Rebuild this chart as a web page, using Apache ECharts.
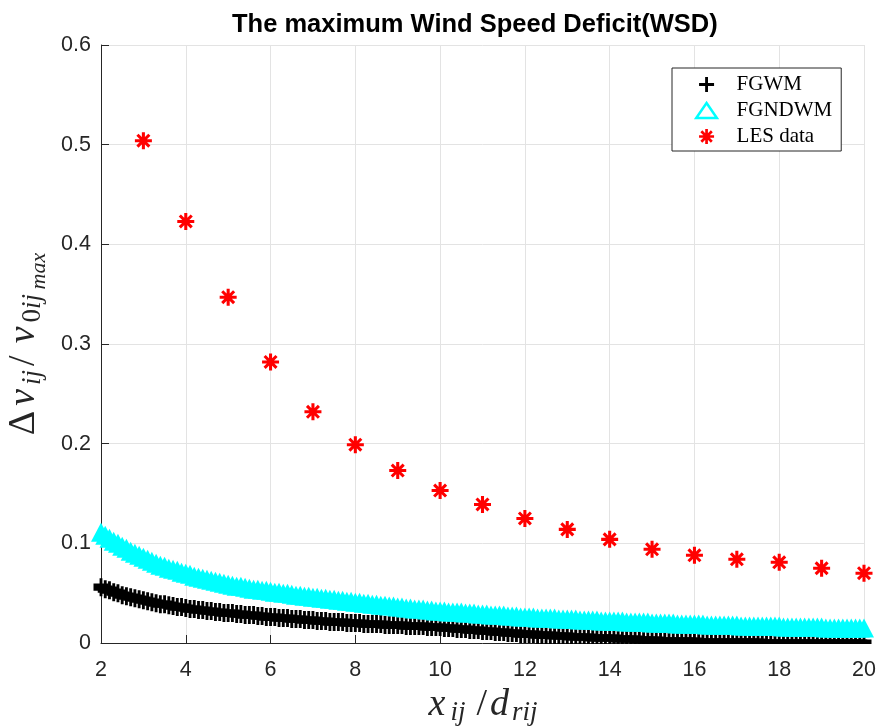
<!DOCTYPE html>
<html>
<head>
<meta charset="utf-8">
<script src="https://cdn.jsdelivr.net/npm/echarts@6/dist/echarts.min.js"></script>
<style>html,body{margin:0;padding:0;background:#fff;}#chart{width:879px;height:727px;}</style>
</head>
<body>
<div id="chart"></div>
<script>
var xs = [2,2.1,2.2,2.3,2.4,2.5,2.6,2.7,2.8,2.9,3,3.1,3.2,3.3,3.4,3.5,3.6,3.7,3.8,3.9,4,4.1,4.2,4.3,4.4,4.5,4.6,4.7,4.8,4.9,5,5.1,5.2,5.3,5.4,5.5,5.6,5.7,5.8,5.9,6,6.1,6.2,6.3,6.4,6.5,6.6,6.7,6.8,6.9,7,7.1,7.2,7.3,7.4,7.5,7.6,7.7,7.8,7.9,8,8.1,8.2,8.3,8.4,8.5,8.6,8.7,8.8,8.9,9,9.1,9.2,9.3,9.4,9.5,9.6,9.7,9.8,9.9,10,10.1,10.2,10.3,10.4,10.5,10.6,10.7,10.8,10.9,11,11.1,11.2,11.3,11.4,11.5,11.6,11.7,11.8,11.9,12,12.1,12.2,12.3,12.4,12.5,12.6,12.7,12.8,12.9,13,13.1,13.2,13.3,13.4,13.5,13.6,13.7,13.8,13.9,14,14.1,14.2,14.3,14.4,14.5,14.6,14.7,14.8,14.9,15,15.1,15.2,15.3,15.4,15.5,15.6,15.7,15.8,15.9,16,16.1,16.2,16.3,16.4,16.5,16.6,16.7,16.8,16.9,17,17.1,17.2,17.3,17.4,17.5,17.6,17.7,17.8,17.9,18,18.1,18.2,18.3,18.4,18.5,18.6,18.7,18.8,18.9,19,19.1,19.2,19.3,19.4,19.5,19.6,19.7,19.8,19.9,20];

var fgwm = [
.056,.054,.053,.051,.050,.048,.047,.046,.045,.044,.043,
.042,.041,.040,.039,.039,.038,.037,.036,.036,.035,
.034,.034,.033,.033,.032,.032,.031,.031,.030,.030,
.030,.029,.029,.028,.028,.028,.027,.027,.026,.026,
.026,.025,.025,.025,.024,.024,.024,.023,.023,.023,
.022,.022,.022,.021,.021,.021,.021,.020,.020,.020,
.020,.019,.019,.019,.019,.019,.018,.018,.018,.018,
.018,.017,.017,.017,.017,.017,.016,.016,.016,.016,
.015,.015,.015,.014,.014,.014,.013,.013,.013,.012,
.012,.012,.011,.011,.011,.010,.010,.010,.009,.009,
.009,.009,.008,.008,.008,.008,.007,.007,.007,.007,
.006,.006,.006,.006,.006,.005,.005,.005,.005,.005,
.005,.004,.004,.004,.004,.004,.003,.003,.003,.003,
.003,.002,.002,.002,.002,.002,.002,.002,.002,.002,
.001,.001,.001,.001,.001,.001,.001,.001,.001,.001,
.001,.001,.001,.001,.001,0,0,0,0,0,
0,0,0,0,0,0,0,0,0,0,
0,0,0,0,0,0,0,0,0,0];

var fgndwm = [
.111,.108,.105,.102,.100,.097,.095,.092,.090,.088,.086,
.084,.082,.080,.078,.077,.075,.074,.073,.071,.070,
.069,.067,.066,.065,.064,.063,.062,.061,.060,.059,
.058,.057,.057,.056,.055,.054,.054,.053,.053,.052,
.051,.051,.050,.050,.049,.048,.048,.047,.047,.046,
.046,.045,.045,.044,.044,.043,.043,.042,.042,.041,
.041,.040,.040,.039,.039,.038,.038,.037,.037,.036,
.036,.035,.035,.034,.034,.034,.033,.033,.032,.032,
.032,.031,.031,.031,.031,.030,.030,.030,.029,.029,
.029,.028,.028,.028,.028,.027,.027,.027,.026,.026,
.026,.026,.025,.025,.025,.025,.025,.024,.024,.024,
.024,.024,.023,.023,.023,.023,.023,.022,.022,.022,
.022,.022,.022,.021,.021,.021,.021,.021,.021,.020,
.020,.020,.020,.020,.020,.019,.019,.019,.019,.019,
.019,.019,.018,.018,.018,.018,.018,.018,.018,.018,
.017,.017,.017,.017,.017,.017,.017,.017,.017,.017,
.016,.016,.016,.016,.016,.016,.016,.016,.016,.016,
.015,.015,.015,.015,.015,.015,.015,.015,.015,.015];

var lesX = [3,4,5,6,7,8,9,10,11,12,13,14,15,16,17,18,19,20];
var lesY = [0.504,0.423,0.347,0.282,0.232,0.199,0.173,0.153,0.139,0.125,0.114,0.104,0.094,0.088,0.084,0.081,0.075,0.070];

var seriesNames = ['FGWM','FGNDWM','LES data'];
var xTicks = {min:2, max:20, step:2};
var yTicks = {min:0, max:0.6, step:0.1};

function pairs(a, b){ var out=[]; for (var i=0;i<a.length;i++) out.push([a[i], b[i]]); return out; }

var PLUS_ICON = 'path://M-1.9,-10L1.9,-10L1.9,10L-1.9,10ZM-10,-1.9L10,-1.9L10,1.9L-10,1.9Z';
var PLUS_MARK = 'path://M-1.9,-10L1.9,-10L1.9,10L-1.9,10ZM-10,-4L10,-4L10,4L-10,4Z';
var STAR = 'path://M-1.8,-10L1.8,-10L1.8,10L-1.8,10Z' +
  'M-10,-1.8L10,-1.8L10,1.8L-10,1.8Z' +
  'M-5.73,-8.27L8.27,5.73L5.73,8.27L-8.27,-5.73Z' +
  'M5.73,-8.27L8.27,-5.73L-5.73,8.27L-8.27,5.73Z';
var TRI = 'path://M0,-8L11,8L-11,8Z';

var G = {left:101, right:15, top:45, bottom:84};
var W = 879, H = 727;

var chart = echarts.init(document.getElementById('chart'), null, {renderer:'canvas'});
var serif = 'Liberation Serif';
var sans = 'Liberation Sans';
var lab = '#262626';

function st(size, italic, pad){
  return {fontFamily: serif, fontStyle: italic ? 'italic' : 'normal', fontSize: size, color: lab, verticalAlign: 'middle', padding: pad};
}

chart.setOption({
  animation: false,
  backgroundColor: '#fff',
  title: {
    text: 'The maximum Wind Speed Deficit(WSD)',
    left: 232, top: 12, padding: 0,
    textStyle: {fontFamily: sans, fontWeight: 'bold', fontSize: 25.5, color: '#000'}
  },
  grid: {left: G.left, right: G.right, top: G.top, bottom: G.bottom, containLabel: false, outerBoundsMode: 'none'},
  legend: {
    orient: 'vertical', left: 672, top: 68,
    padding: [3.5, 9, 1.5, 23],
    itemWidth: 50, itemHeight: 15, itemGap: 0,
    borderColor: '#262626', borderWidth: 1, backgroundColor: '#fff',
    selectedMode: false,
    textStyle: {fontFamily: serif, fontSize: 21, color: '#000', lineHeight: 26},
    data: [
      {name: seriesNames[0], icon: PLUS_ICON, itemStyle: {color: '#000', opacity: 1}},
      {name: seriesNames[1], icon: TRI, itemStyle: {color: '#fff', borderColor: '#00ffff', borderWidth: 2.5, opacity: 1}},
      {name: seriesNames[2], icon: STAR, itemStyle: {color: '#ff0000', opacity: 1}}
    ]
  },
  xAxis: {
    type: 'value', min: xTicks.min, max: xTicks.max, interval: xTicks.step,
    name: '{x|x}{s1|ij}{sl|/}{d|d}{s2|rij}',
    nameLocation: 'middle', nameGap: 38,
    nameTextStyle: {
      rich: {
        x: st(38, true, [0, 4, 0, 3]),
        s1: st(27, true, [17, 5, 0, 1]),
        sl: st(38, false, [0, 1, 0, 6]),
        d: st(38, true, [0, 1, 0, 2]),
        s2: st(27, true, [17, 2, 0, 2])
      }
    },
    axisLine: {onZero: false, lineStyle: {color: lab, width: 1}},
    axisTick: {inside: true, length: 8, lineStyle: {color: lab}},
    axisLabel: {margin: 16, fontFamily: sans, fontSize: 21.5, color: lab},
    splitLine: {show: true, lineStyle: {color: '#e3e3e3', width: 1}}
  },
  yAxis: {
    type: 'value', min: yTicks.min, max: yTicks.max, interval: yTicks.step,
    name: '{d|\u0394}{v1|v}{s1|ij}{sl|/}{v2|v}{z|0}{s2|ij}{m|max}',
    nameLocation: 'middle', nameRotate: 90, nameGap: 49,
    nameTextStyle: {
      rich: {
        d: st(38, false, [0, 3, 0, 0]),
        v1: st(38, true, [0, 2, 0, 2]),
        s1: st(27, true, [17, 2, 0, 2]),
        sl: st(38, false, [0, 2, 0, 2]),
        v2: st(38, true, [0, 3, 0, 10]),
        z: st(27, false, [17, 0, 0, 1]),
        s2: st(27, true, [17, 2, 0, 0]),
        m: st(22, true, [30, 0, 0, 2.5])
      }
    },
    axisLine: {show: true, lineStyle: {color: lab, width: 1}},
    axisTick: {show: true, inside: true, length: 8, lineStyle: {color: lab}},
    axisLabel: {margin: 10, fontFamily: sans, fontSize: 21.5, color: lab},
    splitLine: {show: true, lineStyle: {color: '#e3e3e3', width: 1}}
  },
  graphic: [{
    type: 'rect', z: 100, silent: true,
    shape: {x: 300, y: H - G.bottom + 1, width: W - 300, height: 13},
    style: {fill: '#fff'}
  }],
  series: [
    {name: seriesNames[0], type: 'scatter', data: pairs(xs, fgwm), symbol: PLUS_MARK, symbolSize: [15, 18],
     itemStyle: {color: '#000', opacity: 1}, silent: true, z: 2},
    {name: seriesNames[1], type: 'scatter', data: pairs(xs, fgndwm), symbol: 'triangle', symbolSize: [20, 19],
     itemStyle: {color: '#00ffff', opacity: 1}, silent: true, z: 3},
    {name: seriesNames[2], type: 'scatter', data: pairs(lesX, lesY), symbol: STAR, symbolSize: 17,
     itemStyle: {color: '#ff0000', opacity: 1}, silent: true, z: 4}
  ]
});
</script>
</body>
</html>
